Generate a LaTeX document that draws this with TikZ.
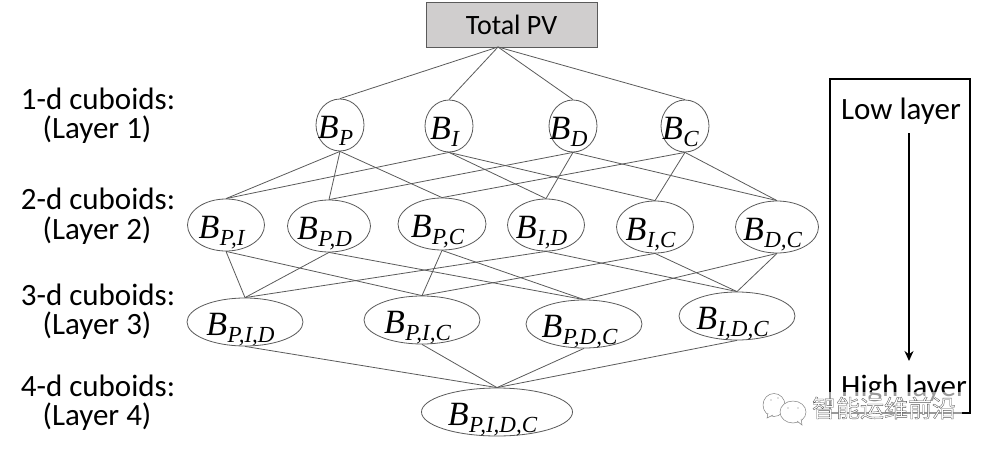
\documentclass[tikz,border=0pt]{standalone}
\usepackage{fontspec}
\setmainfont{Carlito}
\newfontfamily\cjk{Noto Sans CJK SC}
\newfontfamily\cbfont{Liberation Serif}
\usetikzlibrary{shapes.geometric,arrows.meta}
\definecolor{edgegray}{HTML}{5A5A5A}
\definecolor{boxgray}{HTML}{D0CECE}
\newcommand{\cbsym}[1]{\makebox[0pt]{\raisebox{-13pt}[0pt][0pt]{\cbfont\itshape\fontsize{34}{38}\selectfont B\hspace{0.5pt}\raisebox{-7pt}{\fontsize{23}{26}\selectfont #1}\hspace*{9pt}}}}
\tikzset{
  x=1pt,y=-1pt,
  lab/.style={font=\fontsize{31}{34}\selectfont,text=black,inner sep=0pt,anchor=center},
  cub/.style={draw=edgegray,line width=0.8pt,ellipse,inner sep=0pt,fill=white},
  e1/.style={cub,minimum width=48pt,minimum height=52pt},
  e2/.style={cub,minimum width=80pt,minimum height=52pt},
  e3/.style={cub,minimum width=116pt,minimum height=48pt},
  link/.style={draw=edgegray,line width=0.8pt},
  bubble/.style={draw=gray,line width=0.5pt,fill=white},
}
\begin{document}
\begin{tikzpicture}
\useasboundingbox (0,0) rectangle (987,452);
\node[draw=edgegray,fill=boxgray,line width=0.8pt,minimum width=171pt,minimum height=45pt,inner sep=0pt,font=\fontsize{28}{32}\selectfont] (top) at (511.5,24.5) {Total PV};
\coordinate (tb) at (498,47);

\node[e1] (P) at (340,125) {\cbsym{P}};
\node[e1] (I) at (449,126) {\cbsym{I}};
\node[e1] (D) at (573,126) {\cbsym{D}};
\node[e1] (C) at (685,126) {\cbsym{C}};

\node[e2,minimum width=77pt] (PI) at (226,225) {\cbsym{P,I}};
\node[e2,minimum width=83pt] (PD) at (329,226) {\cbsym{P,D}};
\node[e2,minimum width=88pt] (PC) at (442,224) {\cbsym{P,C}};
\node[e2,minimum width=77pt] (ID) at (546,225) {\cbsym{I,D}};
\node[e2,minimum width=77pt] (IC) at (655,227) {\cbsym{I,C}};
\node[e2,minimum width=83pt] (DC) at (777,227) {\cbsym{D,C}};

\node[e3] (PID) at (245,322) {\cbsym{P,I,D}};
\node[e3] (PIC) at (422,320) {\cbsym{P,I,C}};
\node[e3] (PDC) at (584,324) {\cbsym{P,D,C}};
\node[e3] (IDC) at (737,316) {\cbsym{I,D,C}};

\node[e3,minimum width=151pt] (PIDC) at (497,412) {\cbsym{P,I,D,C}};

\foreach \t in {P,I,D,C} \draw[link] (tb) -- (\t.north);
\foreach \a/\b in {P/PI,P/PD,P/PC,I/PI,I/ID,I/IC,D/PD,D/ID,D/DC,C/PC,C/IC,C/DC,
  PI/PID,PI/PIC,PD/PID,PD/PDC,PC/PIC,PC/PDC,ID/PID,ID/IDC,IC/PIC,IC/IDC,DC/PDC,DC/IDC,
  PID/PIDC,PIC/PIDC,PDC/PIDC,IDC/PIDC}
  \draw[link] (\a.south) -- (\b.north);

\node[lab] (l1a) at (98,98.5) {1-d cuboids:};
\node[lab] (l1b) at (97,129.5) {(Layer 1)};
\node[lab] (l2a) at (98,198.5) {2-d cuboids:};
\node[lab] (l2b) at (97,230.5) {(Layer 2)};
\node[lab] (l3a) at (98,294.5) {3-d cuboids:};
\node[lab] (l3b) at (97,325.5) {(Layer 3)};
\node[lab] (l4a) at (98,385.5) {4-d cuboids:};
\node[lab] (l4b) at (97,416.5) {(Layer 4)};

\node[draw=black,line width=1.5pt,minimum width=140pt,minimum height=334pt,inner sep=0pt] (frame) at (900,246) {};
\node[lab] (low) at (901,111.5) {Low layer};
\node[lab] (high) at (904,388) {High layer};
\coordinate (as) at (909,133);
\coordinate (ae) at (909,361);
\draw[line width=1.5pt,-{Stealth[length=10pt,width=9pt]}] (as) -- (ae);

% watermark
\fill[white,opacity=0.6] (762,392) rectangle (962,426);
\draw[bubble] (774,405) ellipse (11pt and 11.5pt);
\draw[bubble] (768,413) -- (767,418) -- (773,415);
\draw[bubble] (793,412) ellipse (13pt and 11pt);
\draw[bubble] (797,421) -- (802,425) -- (801,419);
\fill[gray] (788,408) circle (0.7pt) (798,408) circle (0.7pt) (771,400) circle (0.7pt) (778,398) circle (0.7pt);
\node[inner sep=0pt,text=white,font=\cjk\fontsize{24}{28}\selectfont] (wm) at (884,408) {\special{pdf:code 2 Tr 0.35 w 0.35 0.35 0.35 RG}智能运维前沿\special{pdf:code 0 Tr}};
\end{tikzpicture}
\end{document}
